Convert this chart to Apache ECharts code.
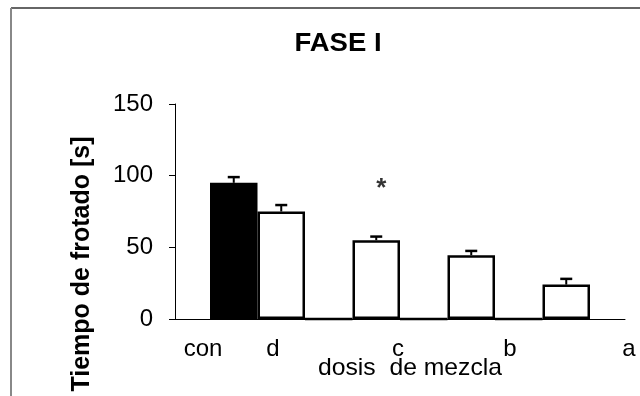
<!DOCTYPE html>
<html>
<head>
<meta charset="utf-8">
<script src="https://cdn.jsdelivr.net/npm/echarts@6/dist/echarts.min.js"></script>
<style>
  html, body { margin: 0; padding: 0; background: #fff; }
  #chart { width: 640px; height: 396px; }
</style>
</head>
<body>
<div id="chart"></div>
<script>
// Bar groups along the dose axis (spacer groups sit between the doses)
const groups = ['con', 'd', 'd–c', 'c', 'c–b', 'b', 'b–a', 'a'];
// Mean rubbing time [s] per group
const meanTime = [95, 75, 0, 55, 0, 44.5, 0, 24];
// Upper error (SEM) per group
const errTime = [4, 4.5, null, 2.5, null, 3, null, 4];
// Text printed under the axis
const doseLabels = ['con', 'd', 'c', 'b', 'a'];
// Groups marked as significant
const significant = ['c'];

const yTicks = { min: 0, max: 150, step: 50 };
const FONT = '"Liberation Sans", Arial, Helvetica, sans-serif';

const chart = echarts.init(document.getElementById('chart'), null, { renderer: 'canvas' });

const gridTop = 104, gridBottom = 77;

// Centres for the dose labels printed beneath the axis
const doseLabelX = [203, 273, 398, 510, 629];

const option = {
  animation: false,
  backgroundColor: '#ffffff',
  grid: [
    { left: 175, right: 15, top: gridTop, bottom: gridBottom },
    { left: 210, right: 50, top: gridTop, bottom: gridBottom }
  ],
  xAxis: [
    {
      gridIndex: 0, type: 'value', min: 0, max: 1,
      axisLine: { show: true, lineStyle: { color: '#000', width: 1 } },
      axisTick: { show: false }, axisLabel: { show: false }, splitLine: { show: false }
    },
    {
      gridIndex: 1, type: 'category', data: groups,
      boundaryGap: true, show: false
    }
  ],
  yAxis: [
    {
      gridIndex: 0, type: 'value',
      min: yTicks.min, max: yTicks.max, interval: yTicks.step,
      axisLine: { show: true, lineStyle: { color: '#000', width: 1 } },
      axisTick: { show: true, inside: false, length: 6, lineStyle: { color: '#000' } },
      axisLabel: { margin: 22, fontFamily: FONT, fontSize: 24, color: '#000' },
      splitLine: { show: false }
    },
    {
      gridIndex: 1, type: 'value',
      min: yTicks.min, max: yTicks.max, interval: yTicks.step, show: false
    }
  ],
  series: [
    {
      type: 'bar',
      xAxisIndex: 1, yAxisIndex: 1,
      barWidth: '100%',
      barCategoryGap: '0%',
      data: meanTime.map((v, i) => ({
        value: v,
        itemStyle: { color: i === 0 ? '#000' : '#fff' }
      })),
      itemStyle: { borderColor: '#000', borderWidth: 2.5 },
      z: 3
    },
    {
      // upper error whiskers
      type: 'custom',
      xAxisIndex: 1, yAxisIndex: 1,
      data: meanTime.map((v, i) => [i, v, errTime[i]]).filter(d => d[2] != null),
      renderItem: function (params, api) {
        const top = api.coord([api.value(0), api.value(1) + api.value(2)]);
        const base = api.coord([api.value(0), api.value(1)]);
        const half = 6;
        return {
          type: 'group',
          children: [
            { type: 'line', shape: { x1: base[0], y1: base[1], x2: top[0], y2: top[1] },
              style: { stroke: '#000', lineWidth: 2 } },
            { type: 'line', shape: { x1: top[0] - half, y1: top[1], x2: top[0] + half, y2: top[1] },
              style: { stroke: '#000', lineWidth: 2.5 } }
          ]
        };
      },
      z: 4
    },
    {
      // significance marker
      type: 'scatter',
      xAxisIndex: 1, yAxisIndex: 1,
      symbolSize: 0,
      data: significant.map(g => [g, 91]),
      label: {
        show: true, position: 'inside', formatter: '*', offset: [5, 0],
        fontFamily: FONT, fontSize: 26, fontWeight: 'bold', color: '#000'
      },
      z: 5
    }
  ],
  graphic: [
    // chart area frame
    { type: 'line', shape: { x1: 11, y1: 8, x2: 640, y2: 8 }, style: { stroke: '#333', lineWidth: 1.5 } },
    { type: 'line', shape: { x1: 11, y1: 8, x2: 11, y2: 396 }, style: { stroke: '#888', lineWidth: 2 } },
    // chart title
    {
      type: 'text', x: 338, y: 44, scaleX: 1.1,
      style: {
        text: 'FASE I', font: 'bold 25px ' + FONT,
        fill: '#000', textAlign: 'center', textVerticalAlign: 'middle'
      }
    },
    // y axis title
    {
      type: 'text', x: 82, y: 264, rotation: Math.PI / 2,
      style: {
        text: 'Tiempo de frotado [s]', font: 'bold 25px ' + FONT,
        fill: '#000', textAlign: 'center', textVerticalAlign: 'middle'
      }
    },
    // x axis title
    {
      type: 'text', x: 410, y: 368, scaleX: 1.03,
      style: {
        text: 'dosis  de mezcla', font: '24px ' + FONT,
        fill: '#000', textAlign: 'center', textVerticalAlign: 'middle'
      }
    }
  ].concat(doseLabels.map((t, i) => ({
    type: 'text', x: doseLabelX[i], y: 349,
    style: { text: t, font: '24px ' + FONT, fill: '#000', textAlign: 'center', textVerticalAlign: 'middle' }
  })))
};

chart.setOption(option);
</script>
</body>
</html>
